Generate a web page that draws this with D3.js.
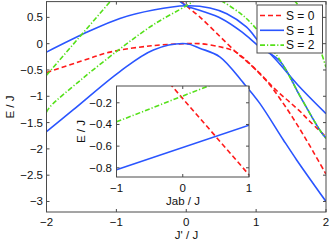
<!DOCTYPE html>
<html>
<head>
<meta charset="utf-8">
<script src="https://d3js.org/d3.v7.min.js"></script>
<style>
  body { margin: 0; background: #fff; }
  text { font-family: "Liberation Sans", Arial, sans-serif; fill: #111; }
</style>
</head>
<body>
<svg width="332" height="243"></svg>
<script>
// ---- main panel: E/J against J'/J ----
// S = 0 (red dashed)
const jpS0a = [-2, -1.5, -1.09, -0.5, 0, 0.2, 0.48, 0.67, 0.82, 1.05, 1.2, 1.36, 1.53, 1.67, 1.82, 2];
const eS0a  = [-0.55, -0.33, -0.16, -0.04, 0, 0, -0.06, -0.13, -0.27, -0.57, -0.79, -1.08, -1.42, -1.72, -2.06, -2.48];
const jpS0b = [-0.08, 0, 0.2, 0.48, 0.72, 0.85, 1.05, 1.2, 1.34, 1.48, 1.63, 1.77, 2];
const eS0b  = [0.82, 0.72, 0.5, 0.14, -0.17, -0.32, -0.56, -0.77, -0.95, -1.11, -1.29, -1.48, -1.77];
// S = 1 (blue solid)
const jpS1a = [-2, -1.4, -0.95, -0.47, 0, 0.34, 0.58, 0.86, 1.05, 1.3, 1.6, 2];
const eS1a  = [-0.16, 0.23, 0.48, 0.64, 0.72, 0.68, 0.57, 0.32, 0.02, -0.33, -0.79, -1.33];
const jpS1b = [-2, -1.62, -0.95, -0.47, 0, 0.2, 0.48, 0.82, 1.05, 1.39, 1.58, 2];
const eS1b  = [-1.67, -1.26, -0.53, -0.12, 0, -0.09, -0.25, -0.75, -1.13, -1.83, -2.21, -3.0];
const jpS1c = [-0.14, 0, 0.2, 0.5, 0.8, 1.05, 1.34, 1.63, 1.91, 2];
const eS1c  = [0.86, 0.72, 0.63, 0.48, 0.22, -0.06, -0.33, -1.0, -1.64, -1.8];
// S = 2 (green dash-dot)
const jpS2a = [-2, -1.05];
const eS2a  = [-0.6, 0.86];
const jpS2b = [-2, -1.95, -1.5, -0.95, -0.47, 0, 0.12];
const eS2b  = [-1.3, -1.2, -0.68, -0.1, 0.36, 0.72, 0.82];
const jpS2c = [0.5, 0.77, 0.95, 1.34, 1.63, 1.91, 2];
const eS2c  = [0.82, 0.58, 0.36, -0.31, -1.0, -1.64, -1.8];
const jpS2d = [1.55, 1.75, 1.92, 2];
const eS2d  = [0.82, 0.45, -0.12, -0.45];

const xTicks = [-2, -1, 0, 1, 2];
const yTicks = [-3, -2.5, -2, -1.5, -1, -0.5, 0, 0.5];

// ---- inset: E/J against Jab/J ----
const jabS0 = [-0.2, 1];
const eInS0 = [-0.02, -0.865];
const jabS1 = [-1, 1];
const eInS1 = [-0.818, -0.407];
const jabS2 = [-1, 0.5];
const eInS2 = [-0.376, -0.018];
const insetXTicks = [-1, 0, 1];
const insetYTicks = [-0.8, -0.6, -0.4, -0.2];

const legendLabels = ["S = 0", "S = 1", "S = 2"];

const RED = "#ff1a1a", BLUE = "#2a55ff", GREEN = "#55e01a";
const styles = {
  0: {color: RED, dash: "5,3"},
  1: {color: BLUE, dash: null},
  2: {color: GREEN, dash: "5,2,1.2,2"}
};

const svg = d3.select("svg");
const fmt = v => (v < 0 ? "\u2212" : "") + Math.abs(v);

const x = d3.scaleLinear().domain([-2, 2]).range([46.5, 326]);
const y = d3.scaleLinear().domain([0.8, -3.2]).range([1.6, 212]);

const defs = svg.append("defs");
defs.append("clipPath").attr("id", "mainclip").append("rect")
  .attr("x", x(-2)).attr("y", y(0.8))
  .attr("width", x(2) - x(-2)).attr("height", y(-3.2) - y(0.8));

function frame(g, xs, ys, xt, yt) {
  const [x0, x1] = xs.range(), [y0, y1] = ys.range();
  g.append("rect").attr("x", x0).attr("y", y0)
    .attr("width", x1 - x0).attr("height", y1 - y0)
    .attr("fill", "none").attr("stroke", "#4a4a4a").attr("stroke-width", 1);
  xt.forEach(t => {
    g.append("line").attr("x1", xs(t)).attr("x2", xs(t)).attr("y1", y1).attr("y2", y1 - 3).attr("stroke", "#4a4a4a");
    g.append("line").attr("x1", xs(t)).attr("x2", xs(t)).attr("y1", y0).attr("y2", y0 + 3).attr("stroke", "#4a4a4a");
  });
  yt.forEach(t => {
    g.append("line").attr("y1", ys(t)).attr("y2", ys(t)).attr("x1", x0).attr("x2", x0 + 3).attr("stroke", "#4a4a4a");
    g.append("line").attr("y1", ys(t)).attr("y2", ys(t)).attr("x1", x1).attr("x2", x1 - 3).attr("stroke", "#4a4a4a");
  });
}

function curve(g, xs, ys, xv, yv, s) {
  const pts = xv.map((v, i) => [v, yv[i]]);
  const line = d3.line().x(d => xs(d[0])).y(d => ys(d[1]))
    .curve(xv.length > 2 ? d3.curveCatmullRom.alpha(0.5) : d3.curveLinear);
  g.append("path").attr("d", line(pts))
    .attr("fill", "none").attr("stroke", styles[s].color)
    .attr("stroke-width", 1.6)
    .attr("stroke-dasharray", styles[s].dash);
}

// main curves
const main = svg.append("g").attr("clip-path", "url(#mainclip)");
curve(main, x, y, jpS0a, eS0a, 0);
curve(main, x, y, jpS0b, eS0b, 0);
curve(main, x, y, jpS1a, eS1a, 1);
curve(main, x, y, jpS1b, eS1b, 1);
curve(main, x, y, jpS1c, eS1c, 1);
curve(main, x, y, jpS2a, eS2a, 2);
curve(main, x, y, jpS2b, eS2b, 2);
curve(main, x, y, jpS2c, eS2c, 2);
curve(main, x, y, jpS2d, eS2d, 2);

frame(svg.append("g"), x, y, xTicks, yTicks);

svg.append("g").selectAll("text").data(xTicks).join("text")
  .attr("x", d => x(d)).attr("y", 226).attr("text-anchor", "middle")
  .attr("font-size", 11.5).text(fmt);
svg.append("g").selectAll("text").data(yTicks).join("text")
  .attr("x", 43).attr("y", d => y(d) + 4).attr("text-anchor", "end")
  .attr("font-size", 11.5).text(fmt);
svg.append("text").attr("x", 186.5).attr("y", 238.5).attr("text-anchor", "middle")
  .attr("font-size", 11.5).text("J' / J");
svg.append("text").attr("transform", "translate(13.5,107) rotate(-90)")
  .attr("text-anchor", "middle").attr("font-size", 11.5).text("E / J");

// legend
const leg = svg.append("g");
leg.append("rect").attr("x", 257).attr("y", 5).attr("width", 65.5).attr("height", 48)
  .attr("fill", "#fff").attr("stroke", "#4a4a4a");
legendLabels.forEach((lab, i) => {
  const ly = 15.5 + i * 14.8;
  leg.append("line").attr("x1", 260).attr("x2", 284).attr("y1", ly).attr("y2", ly)
    .attr("stroke", styles[i].color).attr("stroke-width", 1.6)
    .attr("stroke-dasharray", styles[i].dash);
  leg.append("text").attr("x", 286).attr("y", ly + 4.2).attr("font-size", 12).text(lab);
});

// inset
const xi = d3.scaleLinear().domain([-1, 1]).range([116.5, 249]);
const yi = d3.scaleLinear().domain([-0.045, -0.885]).range([86, 177]);
defs.append("clipPath").attr("id", "insetclip").append("rect")
  .attr("x", xi(-1)).attr("y", yi(-0.045))
  .attr("width", xi(1) - xi(-1)).attr("height", yi(-0.885) - yi(-0.045));
svg.append("rect").attr("x", xi(-1)).attr("y", yi(-0.045))
  .attr("width", xi(1) - xi(-1)).attr("height", yi(-0.885) - yi(-0.045))
  .attr("fill", "#fff");
const ins = svg.append("g").attr("clip-path", "url(#insetclip)");
curve(ins, xi, yi, jabS0, eInS0, 0);
curve(ins, xi, yi, jabS1, eInS1, 1);
curve(ins, xi, yi, jabS2, eInS2, 2);
frame(svg.append("g"), xi, yi, insetXTicks, insetYTicks);

svg.append("g").selectAll("text").data(insetXTicks).join("text")
  .attr("x", d => xi(d)).attr("y", 191.5).attr("text-anchor", "middle")
  .attr("font-size", 11.5).text(fmt);
svg.append("g").selectAll("text").data(insetYTicks).join("text")
  .attr("x", 112).attr("y", d => yi(d) + 4).attr("text-anchor", "end")
  .attr("font-size", 11.5).text(fmt);
svg.append("text").attr("x", 183).attr("y", 204.5).attr("text-anchor", "middle")
  .attr("font-size", 11.5).text("Jab / J");
svg.append("text").attr("transform", "translate(84.5,131.5) rotate(-90)")
  .attr("text-anchor", "middle").attr("font-size", 11.5).text("E / J");
</script>
</body>
</html>
